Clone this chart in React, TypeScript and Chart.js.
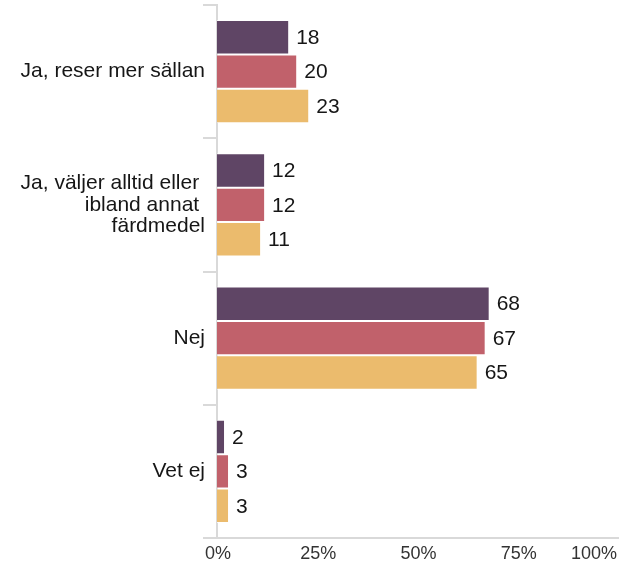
import React, { useEffect, useRef } from "react";
import { Chart, registerables } from "chart.js";

Chart.register(...registerables);

const categories: (string | string[])[] = [
  "Ja, reser mer sällan",
  ["Ja, väljer alltid eller ", "ibland annat ", "färdmedel"],
  "Nej",
  "Vet ej",
];
const seriesNames = ["Serie 1", "Serie 2", "Serie 3"];
const series1 = [18, 12, 68, 2];
const series2 = [20, 12, 67, 3];
const series3 = [23, 11, 65, 3];
const xTicks = [0, 25, 50, 75, 100];

const colors = ["#5f4565", "#c1616b", "#ebbb6d"];
const FONT = "'Liberation Sans', Arial, sans-serif";

const valueLabels = {
  id: "valueLabels",
  afterDatasetsDraw(chart: any) {
    const ctx = chart.ctx;
    ctx.save();
    ctx.font = `21px ${FONT}`;
    ctx.fillStyle = "#161616";
    ctx.textAlign = "left";
    ctx.textBaseline = "middle";
    chart.data.datasets.forEach((ds: any, i: number) => {
      const meta = chart.getDatasetMeta(i);
      meta.data.forEach((el: any, j: number) => {
        ctx.fillText(String(ds.data[j]), el.x + 7, el.y + 1);
      });
    });
    ctx.restore();
  },
};

const xLabels = {
  id: "xLabels",
  afterDraw(chart: any) {
    const ctx = chart.ctx;
    const sx = chart.scales.x;
    ctx.save();
    ctx.font = `18px ${FONT}`;
    ctx.fillStyle = "#333";
    ctx.textBaseline = "middle";
    xTicks.forEach((v, i) => {
      const last = i === xTicks.length - 1;
      ctx.textAlign = last ? "right" : "center";
      const px = last ? chart.chartArea.right - 1 : sx.getPixelForValue(v) + 1;
      ctx.fillText(v + "%", px, sx.top + 16.5);
    });
    ctx.restore();
  },
};

export default function App() {
  const ref = useRef<HTMLCanvasElement>(null);
  useEffect(() => {
    if (!ref.current) return;
    const data = [series1, series2, series3];
    const chart = new Chart(ref.current, {
      type: "bar",
      data: {
        labels: categories,
        datasets: data.map((d, i) => ({
          label: seriesNames[i],
          data: d,
          backgroundColor: colors[i],
          borderColor: "rgba(255,255,255,0.75)",
          borderWidth: 1,
          barPercentage: 1,
          categoryPercentage: 0.775,
        })),
      },
      options: {
        indexAxis: "y",
        animation: false,
        responsive: false,
        layout: { padding: { top: 5, right: 8, bottom: 0, left: 0 } },
        plugins: { legend: { display: false }, tooltip: { enabled: false } },
        scales: {
          x: {
            min: 0,
            max: 100,
            ticks: { display: false, stepSize: 25 },
            grid: { display: false },
            border: { display: true, color: "#d9d9d9", width: 2 },
            afterFit: (s: any) => {
              s.height = 24;
              s.paddingLeft = 0;
              s.paddingRight = 0;
            },
          },
          y: {
            grid: {
              display: true,
              drawOnChartArea: false,
              drawTicks: true,
              tickLength: 14,
              color: "#d9d9d9",
              lineWidth: 2,
              offset: true,
            },
            border: { display: true, color: "#d9d9d9", width: 2 },
            ticks: {
              padding: -2,
              color: "#161616",
              font: { family: FONT, size: 21, lineHeight: 1.02 },
            },
            afterFit: (s: any) => {
              s.width = 217;
              s.paddingTop = 0;
              s.paddingBottom = 0;
            },
          },
        },
      },
      plugins: [valueLabels, xLabels],
    });
    return () => chart.destroy();
  }, []);
  return (
    <div style={{ position: "absolute", left: 0, top: 0, width: 626, height: 562 }}>
      <canvas ref={ref} width={626} height={562} />
    </div>
  );
}
